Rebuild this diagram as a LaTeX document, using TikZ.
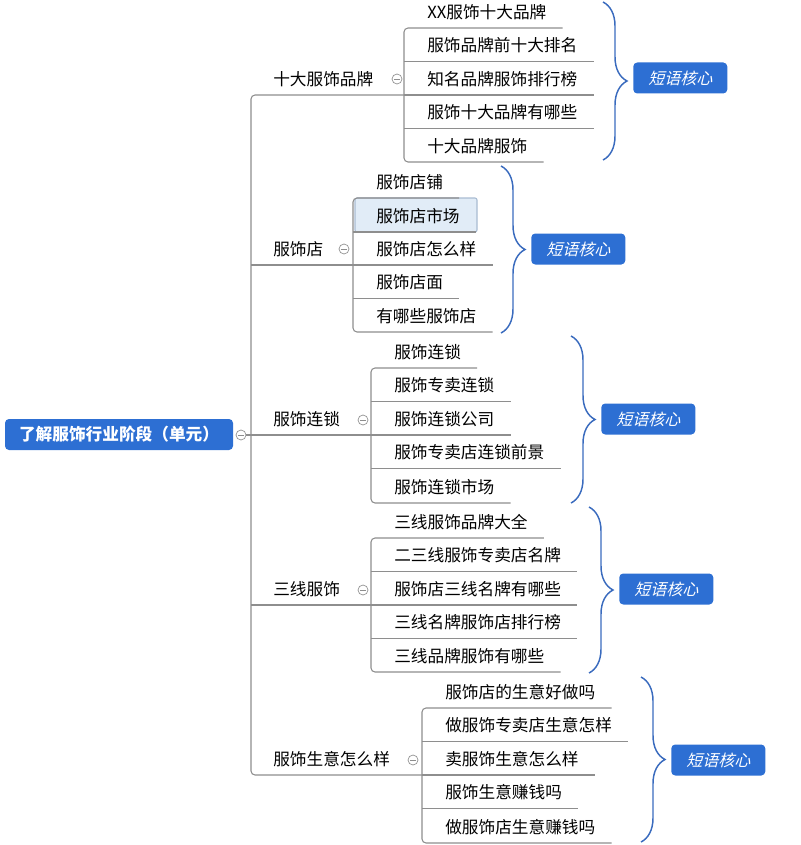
\documentclass[tikz,border=0pt]{standalone}
\usepackage{fontspec}
\usepackage{xcolor}
\setmainfont{Noto Sans CJK SC}
\newfontfamily\slantcjk[FakeSlant=0.25]{Noto Sans CJK SC}
\usetikzlibrary{positioning,decorations.pathreplacing}

\definecolor{linegray}{HTML}{8E8E8E}
\definecolor{xblue}{HTML}{2D6FD3}
\definecolor{bracec}{HTML}{3A6BBE}
\definecolor{hlfill}{HTML}{E1ECF7}
\definecolor{hlline}{HTML}{A9BCD2}

\tikzset{
  conn/.style={draw=linegray, line width=0.8pt},
  leaf/.style={anchor=south west, xshift=5.25pt, inner xsep=12pt, inner ysep=0pt, minimum height=24pt, font=\fontsize{12.5}{14}\selectfont},
  topic/.style={anchor=south west, xshift=16.5pt, inner sep=0pt, minimum height=24pt, font=\fontsize{12.5}{14}\selectfont},
  fold/.style={circle, draw=linegray, line width=0.5pt, minimum size=7.5pt, inner sep=0pt,
    path picture={\draw[linegray, line width=0.5pt] ([xshift=1.6pt]path picture bounding box.west) -- ([xshift=-1.6pt]path picture bounding box.east);}},
  rootbox/.style={fill=xblue, rounded corners=3pt, text=white, minimum width=171pt, minimum height=23.25pt, inner sep=0pt, font=\fontsize{12.5}{14}\selectfont\bfseries},
  sumbox/.style={fill=xblue, rounded corners=3pt, text=white, minimum width=70.5pt, minimum height=23.25pt, inner sep=0pt, font=\fontsize{12}{14}\slantcjk},
  curly/.style={draw=bracec, line width=1.1pt, decorate, decoration={brace, amplitude=18pt}},
  selbox/.style={fill=hlfill, draw=hlline, line width=0.8pt, rounded corners=1.5pt}
}

\begin{document}
\begin{tikzpicture}[x=0.75pt, y=-0.75pt]
  \useasboundingbox (0,0) rectangle (800,845);

  % spines
  \coordinate (r) at (251,435);
  \coordinate (s1) at (404,95);
  \coordinate (s2) at (353,265);
  \coordinate (s3) at (371,435);
  \coordinate (s4) at (371,605);
  \coordinate (s5) at (422,775);

  % root
  \node[rootbox] (root) at (119,434.5) {了解服饰行业阶段（单元）};
  \node[fold] (f0) at (241,435) {};

  % main topics
  \node[topic] (m1) at (251,95) {十大服饰品牌};
  \node[topic] (m2) at (251,265) {服饰店};
  \node[topic] (m3) at (251,435) {服饰连锁};
  \node[topic] (m4) at (251,605) {三线服饰};
  \node[topic] (m5) at (251,775) {服饰生意怎么样};
  \node[fold] (f1) at (397,79) {};
  \node[fold] (f2) at (344,249) {};
  \node[fold] (f3) at (363,420) {};
  \node[fold] (f4) at (363,590) {};
  \node[fold] (f5) at (413,760) {};

  % selected topic
  \draw[selbox] (355,198) rectangle (477,232);

  % leaves
  \node[leaf] (a1) at (404,28) {XX服饰十大品牌};
  \node[leaf] (a2) at (404,61.5) {服饰品牌前十大排名};
  \node[leaf] (a3) at (404,95) {知名品牌服饰排行榜};
  \node[leaf] (a4) at (404,128.5) {服饰十大品牌有哪些};
  \node[leaf] (a5) at (404,162) {十大品牌服饰};

  \node[leaf] (b1) at (353,198) {服饰店铺};
  \node[leaf] (b2) at (353,232) {服饰店市场};
  \node[leaf] (b3) at (353,265) {服饰店怎么样};
  \node[leaf] (b4) at (353,298.5) {服饰店面};
  \node[leaf] (b5) at (353,332) {有哪些服饰店};

  \node[leaf] (c1) at (371,368) {服饰连锁};
  \node[leaf] (c2) at (371,401.5) {服饰专卖连锁};
  \node[leaf] (c3) at (371,435) {服饰连锁公司};
  \node[leaf] (c4) at (371,468.5) {服饰专卖店连锁前景};
  \node[leaf] (c5) at (371,503) {服饰连锁市场};

  \node[leaf] (d1) at (371,538) {三线服饰品牌大全};
  \node[leaf] (d2) at (371,571.5) {二三线服饰专卖店名牌};
  \node[leaf] (d3) at (371,605) {服饰店三线名牌有哪些};
  \node[leaf] (d4) at (371,638.5) {三线名牌服饰店排行榜};
  \node[leaf] (d5) at (371,672) {三线品牌服饰有哪些};

  \node[leaf] (e1) at (422,708) {服饰店的生意好做吗};
  \node[leaf] (e2) at (422,741.5) {做服饰专卖店生意怎样};
  \node[leaf] (e3) at (422,775) {卖服饰生意怎么样};
  \node[leaf] (e4) at (422,808.5) {服饰生意赚钱吗};
  \node[leaf] (e5) at (422,843) {做服饰店生意赚钱吗};

  % connectors
  \draw[conn] (f0.east) -- (r);
  \draw[conn, rounded corners=3pt] (m1.south -| s1) -- (m1.south -| r) -- (m5.south -| r) -- (m5.south -| s5);
  \draw[conn] (m2.south -| r) -- (s2);
  \draw[conn] (m3.south -| r) -- (s3);
  \draw[conn] (m4.south -| r) -- (s4);

  \draw[conn, rounded corners=3pt] (a1.south east) -- (a1.south -| s1) -- (a5.south -| s1) -- (a5.south east);
  \draw[conn] (a2.south -| s1) -- (a2.south east);
  \draw[conn] (a3.south -| s1) -- (a3.south east);
  \draw[conn] (a4.south -| s1) -- (a4.south east);

  \draw[conn, rounded corners=3pt] (b1.south east) -- (b1.south -| s2) -- (b5.south -| s2) -- (b5.south east);
  \draw[conn] (b2.south -| s2) -- (b2.south east);
  \draw[conn] (b3.south -| s2) -- (b3.south east);
  \draw[conn] (b4.south -| s2) -- (b4.south east);

  \draw[conn, rounded corners=3pt] (c1.south east) -- (c1.south -| s3) -- (c5.south -| s3) -- (c5.south east);
  \draw[conn] (c2.south -| s3) -- (c2.south east);
  \draw[conn] (c3.south -| s3) -- (c3.south east);
  \draw[conn] (c4.south -| s3) -- (c4.south east);

  \draw[conn, rounded corners=3pt] (d1.south east) -- (d1.south -| s4) -- (d5.south -| s4) -- (d5.south east);
  \draw[conn] (d2.south -| s4) -- (d2.south east);
  \draw[conn] (d3.south -| s4) -- (d3.south east);
  \draw[conn] (d4.south -| s4) -- (d4.south east);

  \draw[conn, rounded corners=3pt] (e1.south east) -- (e1.south -| s5) -- (e5.south -| s5) -- (e5.south east);
  \draw[conn] (e2.south -| s5) -- (e2.south east);
  \draw[conn] (e3.south -| s5) -- (e3.south east);
  \draw[conn] (e4.south -| s5) -- (e4.south east);

  % braces and summaries
  \coordinate (u1) at (603,2);   \coordinate (v1) at (603,160); \coordinate (t1) at (627,78);
  \coordinate (u2) at (501,166); \coordinate (v2) at (501,333); \coordinate (t2) at (525,249);
  \coordinate (u3) at (571,336); \coordinate (v3) at (571,503); \coordinate (t3) at (595,419);
  \coordinate (u4) at (589,507); \coordinate (v4) at (589,673); \coordinate (t4) at (613,589);
  \coordinate (u5) at (641,677); \coordinate (v5) at (641,842); \coordinate (t5) at (665,760);
  \draw[curly] (u1) -- (v1);
  \draw[curly] (u2) -- (v2);
  \draw[curly] (u3) -- (v3);
  \draw[curly] (u4) -- (v4);
  \draw[curly] (u5) -- (v5);
  \node[sumbox, right=4.5pt of t1] (k1) {短语核心};
  \node[sumbox, right=4.5pt of t2] (k2) {短语核心};
  \node[sumbox, right=4.5pt of t3] (k3) {短语核心};
  \node[sumbox, right=4.5pt of t4] (k4) {短语核心};
  \node[sumbox, right=4.5pt of t5] (k5) {短语核心};
\end{tikzpicture}
\end{document}
